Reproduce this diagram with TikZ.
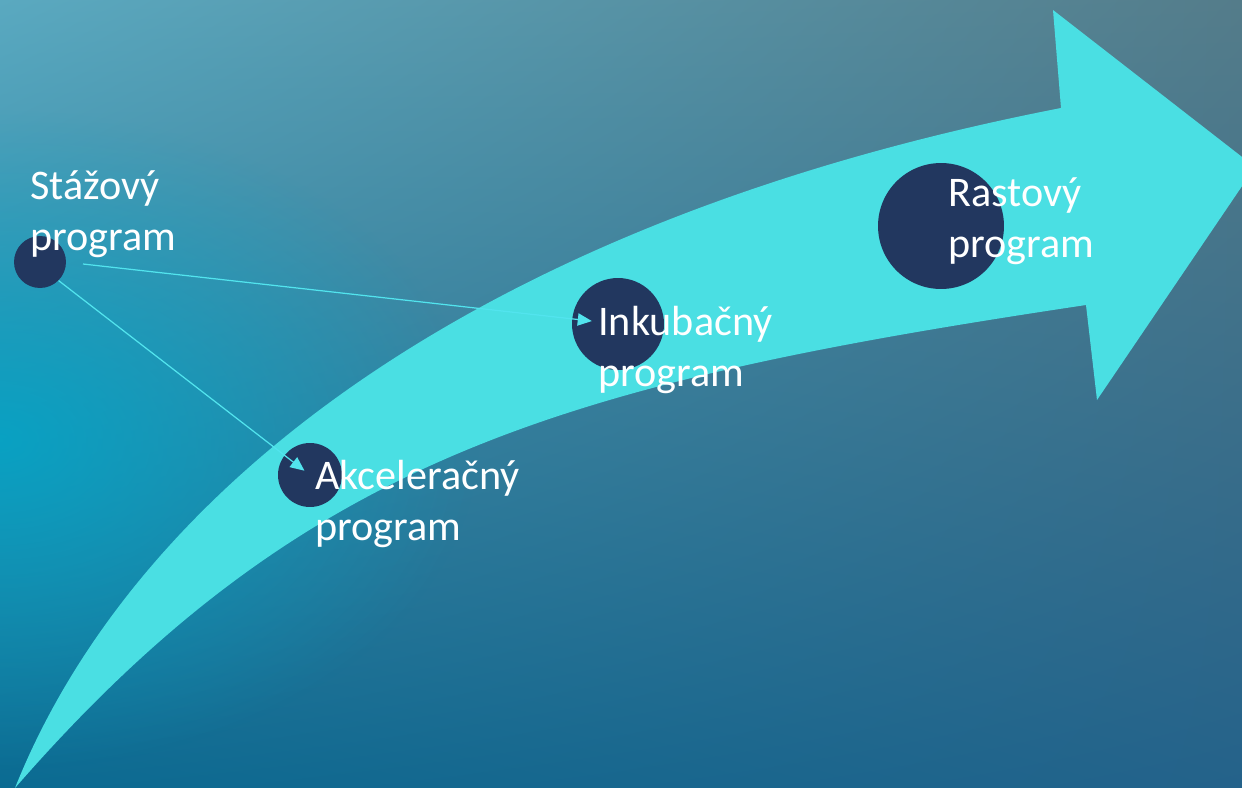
\documentclass[tikz,border=0pt]{standalone}
\usepackage{fontspec}
\setmainfont{Carlito}
\usetikzlibrary{arrows.meta,fadings,shadings}

\definecolor{bgtopleft}{HTML}{5AA9C0}
\definecolor{bgtopright}{HTML}{547C8A}
\definecolor{bgbotleft}{HTML}{0A6B92}
\definecolor{bgbotright}{HTML}{24628A}
\definecolor{bgglow}{HTML}{00A8CA}
\definecolor{arrowcyan}{HTML}{4ADFE3}
\definecolor{stagenavy}{HTML}{22375F}
\definecolor{linkcyan}{HTML}{52E4EE}

\tikzfading[name=glow, inner color=transparent!0, outer color=transparent!100]

\tikzset{
  stage/.style={circle, fill=stagenavy, inner sep=0pt},
  stagelabel/.style={text=white, align=left, anchor=base west, inner sep=0pt,
    font=\fontsize{24}{28.5}\selectfont},
  link/.style={draw=linkcyan, line width=0.7pt, -{Triangle[length=8pt,width=7pt]}}
}

\begin{document}
\begin{tikzpicture}[x=0.02cm, y=-0.02cm]
  \useasboundingbox (0,0) rectangle (1242,788);
  % background
  \shade[upper left=bgtopleft, upper right=bgtopright,
         lower left=bgbotleft, lower right=bgbotright] (0,0) rectangle (1242,788);
  \fill[bgglow, path fading=glow, opacity=0.8] (0,440) ellipse [x radius=480, y radius=330];

  % big growth arrow
  \fill[arrowcyan] (15,788) .. controls (130,500) and (460,225) .. (1061,108)
    -- (1053,10) -- (1255,167) -- (1097,400) -- (1086,305)
    .. controls (566,383) and (305,455) .. (15,788) -- cycle;

  % stages
  \node[stage, minimum size=1.04cm] (staz) at (40,262) {};
  \node[stage, minimum size=1.28cm] (akcel) at (310,475) {};
  \node[stage, minimum size=1.84cm] (inku) at (618,324) {};
  \node[stage, minimum size=2.52cm] (rast) at (941,226) {};

  % links
  \coordinate (stazout) at (83,264);
  \draw[link, shorten >=15pt] (stazout) -- (inku.center);
  \draw[link, shorten >=4pt] (staz.-45) -- (akcel.center);

  % labels
  \node[stagelabel] (stazlabel) at (30,250) {Stážový\\program};
  \node[stagelabel] (akcellabel) at (315,540) {Akceleračný\\program};
  \node[stagelabel] (inkulabel) at (598,386) {Inkubačný\\program};
  \node[stagelabel] (rastlabel) at (948,257) {Rastový\\program};
\end{tikzpicture}
\end{document}
